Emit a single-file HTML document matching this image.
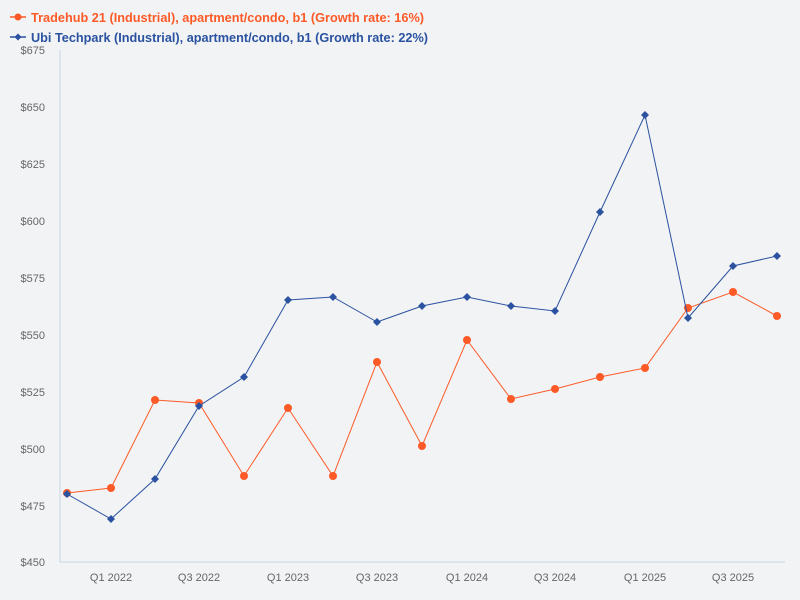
<!DOCTYPE html>
<html><head><meta charset="utf-8"><style>
body{margin:0;background:#f2f3f5;}
svg{display:block;font-family:"Liberation Sans",sans-serif;}
</style></head><body>
<svg width="800" height="600" viewBox="0 0 800 600">
<rect width="800" height="600" fill="#f2f3f5"/>
<g font-size="13" font-weight="bold">
<line x1="10" y1="17" x2="26" y2="17" stroke="#fd5a27" stroke-width="1.5"/><circle cx="18" cy="17" r="3.5" fill="#fd5a27"/>
<text x="31" y="22" fill="#fd5a27" textLength="393" lengthAdjust="spacingAndGlyphs">Tradehub 21 (Industrial), apartment/condo, b1 (Growth rate: 16%)</text>
<line x1="10" y1="37" x2="26" y2="37" stroke="#2a52a0" stroke-width="1.5"/><path d="M18 33.5L21.5 37L18 40.5L14.5 37Z" fill="#2a52a0"/>
<text x="31" y="42" fill="#2a52a0" textLength="397" lengthAdjust="spacingAndGlyphs">Ubi Techpark (Industrial), apartment/condo, b1 (Growth rate: 22%)</text>
</g>
<g font-size="11" fill="#666" text-anchor="end">
<text x="45" y="54">$675</text><text x="45" y="111">$650</text><text x="45" y="168">$625</text>
<text x="45" y="225">$600</text><text x="45" y="282">$575</text><text x="45" y="339">$550</text>
<text x="45" y="396">$525</text><text x="45" y="453">$500</text><text x="45" y="510">$475</text>
<text x="45" y="566">$450</text>
</g>
<g font-size="11" fill="#666" text-anchor="middle">
<text x="111" y="581">Q1 2022</text><text x="199" y="581">Q3 2022</text><text x="288" y="581">Q1 2023</text>
<text x="377" y="581">Q3 2023</text><text x="467" y="581">Q1 2024</text><text x="555" y="581">Q3 2024</text>
<text x="645" y="581">Q1 2025</text><text x="733" y="581">Q3 2025</text>
</g>
<line x1="60" y1="50" x2="60" y2="562" stroke="#c8d4e4"/>
<line x1="60" y1="562" x2="785" y2="562" stroke="#c8d4e4"/>
<polyline fill="none" stroke="#fd5a27" stroke-width="1" points="67,493 111,488 155,400 199,403 244,476 288,408 333,476 377,362 422,446 467,340 511,399 555,389 600,377 645,368 688,308 733,292 777,316"/>
<g fill="#fd5a27">
<circle cx="67" cy="493" r="4"/><circle cx="111" cy="488" r="4"/><circle cx="155" cy="400" r="4"/><circle cx="199" cy="403" r="4"/><circle cx="244" cy="476" r="4"/><circle cx="288" cy="408" r="4"/><circle cx="333" cy="476" r="4"/><circle cx="377" cy="362" r="4"/><circle cx="422" cy="446" r="4"/><circle cx="467" cy="340" r="4"/><circle cx="511" cy="399" r="4"/><circle cx="555" cy="389" r="4"/><circle cx="600" cy="377" r="4"/><circle cx="645" cy="368" r="4"/><circle cx="688" cy="308" r="4"/><circle cx="733" cy="292" r="4"/><circle cx="777" cy="316" r="4"/>
</g>
<polyline fill="none" stroke="#2a52a0" stroke-width="1" points="67,494 111,519 155,479 199,406 244,377 288,300 333,297 377,322 422,306 467,297 511,306 555,311 600,212 645,115 688,318 733,266 777,256"/>
<g fill="#2a52a0">
<path d="M67 490l4 4-4 4-4-4z"/><path d="M111 515l4 4-4 4-4-4z"/><path d="M155 475l4 4-4 4-4-4z"/><path d="M199 402l4 4-4 4-4-4z"/><path d="M244 373l4 4-4 4-4-4z"/><path d="M288 296l4 4-4 4-4-4z"/><path d="M333 293l4 4-4 4-4-4z"/><path d="M377 318l4 4-4 4-4-4z"/><path d="M422 302l4 4-4 4-4-4z"/><path d="M467 293l4 4-4 4-4-4z"/><path d="M511 302l4 4-4 4-4-4z"/><path d="M555 307l4 4-4 4-4-4z"/><path d="M600 208l4 4-4 4-4-4z"/><path d="M645 111l4 4-4 4-4-4z"/><path d="M688 314l4 4-4 4-4-4z"/><path d="M733 262l4 4-4 4-4-4z"/><path d="M777 252l4 4-4 4-4-4z"/>
</g>
</svg>
</body></html>
